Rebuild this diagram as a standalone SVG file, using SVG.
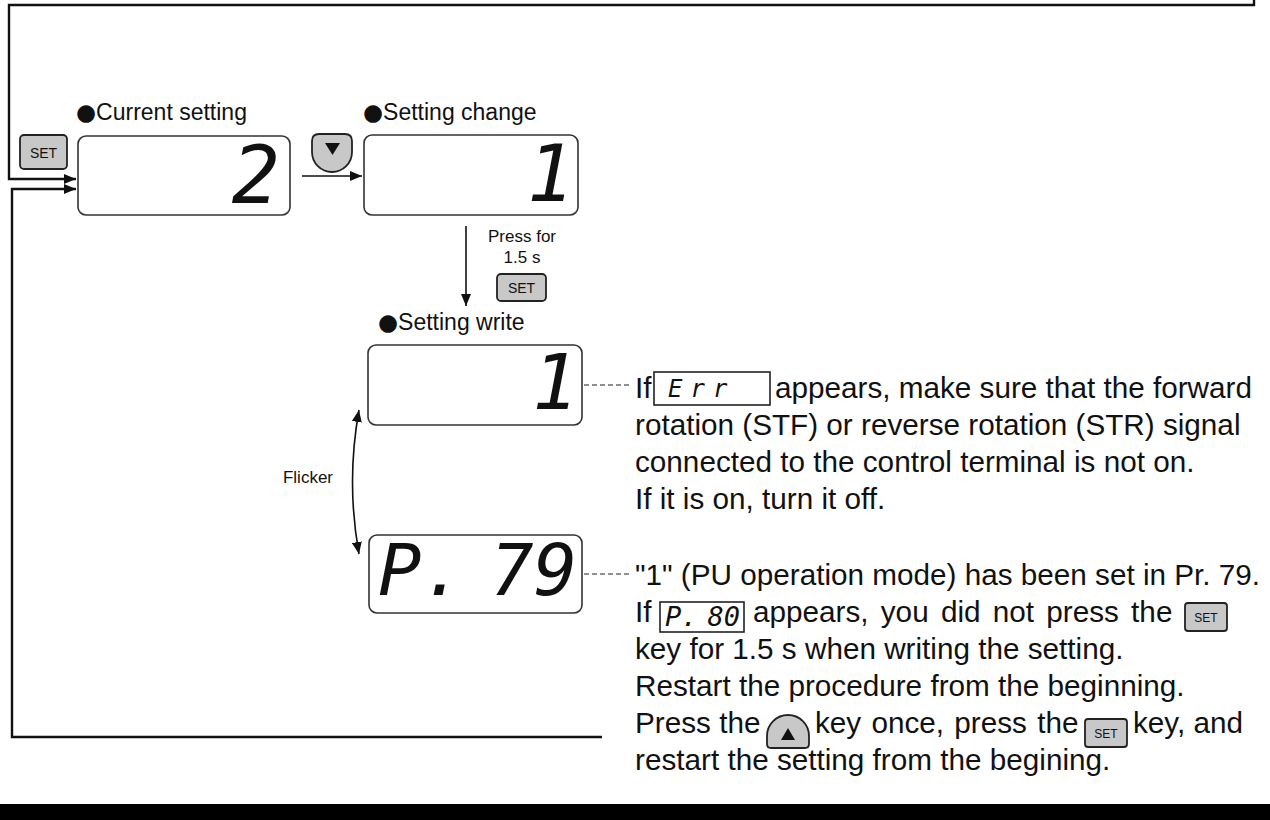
<svg xmlns="http://www.w3.org/2000/svg" width="1270" height="820" viewBox="0 0 1270 820">
<style>
.box{fill:#fff;stroke:#333;stroke-width:1.6}
.sbox{fill:#fff;stroke:#222;stroke-width:1.6}
.key{fill:#c8c8c8;stroke:#222;stroke-width:1.8}
.t{font-family:'Liberation Sans',Arial,'DejaVu Sans',sans-serif;fill:#111}
.body{font-size:29.7px}
.lbl{font-size:23px}
.sm{font-size:17px}
.bul{font-family:'DejaVu Sans',sans-serif}
.kt{font-family:'Liberation Sans',Arial,sans-serif;fill:#111;text-anchor:middle}
.seg{font-family:'DejaVu Sans Mono',monospace;font-style:oblique;fill:#111}
.ln{fill:none;stroke:#111;stroke-width:2.4}
.thin{fill:none;stroke:#111;stroke-width:1.6}
.dash{fill:none;stroke:#222;stroke-width:1.2;stroke-dasharray:5 3}
</style>
<defs>
<marker id="ah" viewBox="0 0 12 10" refX="12" refY="5" markerWidth="12" markerHeight="10" markerUnits="userSpaceOnUse" orient="auto-start-reverse"><path d="M0,0 L12,5 L0,10 z" fill="#111"/></marker>
</defs>

<g id="connectors">
<path class="ln" d="M1254,0 L1254,5 L9,5 L9,179 L76,179" marker-end="url(#ah)"/>
<path class="ln" d="M602,737 L12,737 L12,189 L76,189" marker-end="url(#ah)"/>
<path class="thin" d="M302,176 L362,176" marker-end="url(#ah)"/>
<path class="thin" d="M466,226 L466,306" marker-end="url(#ah)"/>
<path class="thin" d="M359,410 Q346,482 359,554" marker-start="url(#ah)" marker-end="url(#ah)"/>
<path class="dash" d="M584,385 L631,385"/>
<path class="dash" d="M584,574 L631,574"/>
</g>

<g id="set-key-1">
<rect class="key" x="20" y="135" width="47" height="34" rx="4"/>
<text class="kt" x="43.5" y="158" font-size="14">SET</text>
</g>

<g id="current-setting">
<text class="t lbl" x="76" y="120"><tspan class="bul">●</tspan>Current setting</text>
<rect class="box" x="78" y="136" width="212" height="79" rx="8"/>
<text class="seg" x="280" y="203" font-size="80" text-anchor="end">2</text>
</g>

<g id="down-key">
<path class="key" d="M312,141 Q312,134 319,134 L345,134 Q352,134 352,141 L352,152 A20,20 0 0 1 312,152 Z"/>
<polygon points="325,143 340,143 332.5,155" fill="#111"/>
</g>

<g id="setting-change">
<text class="t lbl" x="363" y="120"><tspan class="bul">●</tspan>Setting change</text>
<rect class="box" x="364" y="135" width="214" height="80" rx="8"/>
<text class="seg" x="574" y="201" font-size="78" text-anchor="end">1</text>
</g>

<g id="press-set">
<text class="t sm" x="522" y="242" text-anchor="middle">Press for</text>
<text class="t sm" x="522" y="263" text-anchor="middle">1.5 s</text>
<rect class="key" x="497" y="274" width="49" height="27" rx="4"/>
<text class="kt" x="521.5" y="293" font-size="14">SET</text>
</g>

<g id="setting-write">
<text class="t lbl" x="378" y="330"><tspan class="bul">●</tspan>Setting write</text>
<rect class="box" x="368" y="345" width="214" height="80" rx="8"/>
<text class="seg" x="578" y="409" font-size="76" text-anchor="end">1</text>
</g>

<g id="flicker">
<text class="t sm" x="333" y="483" text-anchor="end">Flicker</text>
</g>

<g id="p79">
<rect class="box" x="369" y="535" width="213" height="78" rx="8"/>
<text class="seg" x="378" y="595" font-size="72">P.</text>
<text class="seg" x="577" y="595" font-size="72" text-anchor="end">79</text>
</g>

<g id="note-err">
<text class="t body" x="635" y="398">If</text>
<rect class="sbox" x="654" y="372" width="116" height="33"/>
<text class="seg" x="668" y="397" font-size="24" letter-spacing="8">Err</text>
<text class="t body" x="775" y="398">appears, make sure that the forward</text>
<text class="t body" x="635" y="435">rotation (STF) or reverse rotation (STR) signal</text>
<text class="t body" x="635" y="472">connected to the control terminal is not on.</text>
<text class="t body" x="635" y="509">If it is on, turn it off.</text>
</g>

<g id="note-p79">
<text class="t body" x="635" y="585">"1" (PU operation mode) has been set in Pr. 79.</text>
<text class="t body" x="635" y="622">If</text>
<rect class="sbox" x="660" y="602" width="84" height="30"/>
<text class="seg" x="665" y="626" font-size="27">P.</text>
<text class="seg" x="740" y="626" font-size="27" text-anchor="end">80</text>
<text class="t body" x="753" y="622" word-spacing="4">appears, you did not press the</text>
<rect class="key" x="1185" y="603" width="42" height="28" rx="3"/>
<text class="kt" x="1206" y="622" font-size="12">SET</text>
<text class="t body" x="635" y="659">key for 1.5 s when writing the setting.</text>
<text class="t body" x="635" y="696">Restart the procedure from the beginning.</text>
<text class="t body" x="635" y="733">Press the</text>
<path class="key" d="M771,748 Q767,748 767,744 L767,736 A21,21 0 0 1 809,736 L809,744 Q809,748 805,748 Z"/>
<polygon points="781,740 795,740 788,728" fill="#111"/>
<text class="t body" x="815" y="733" word-spacing="2">key once, press the</text>
<rect class="key" x="1085" y="719" width="42" height="28" rx="3"/>
<text class="kt" x="1106" y="738" font-size="12">SET</text>
<text class="t body" x="1133" y="733">key, and</text>
<text class="t body" x="635" y="770">restart the setting from the begining.</text>
</g>

<rect id="bottom-bar" x="0" y="804" width="1270" height="16" fill="#000"/>
</svg>
